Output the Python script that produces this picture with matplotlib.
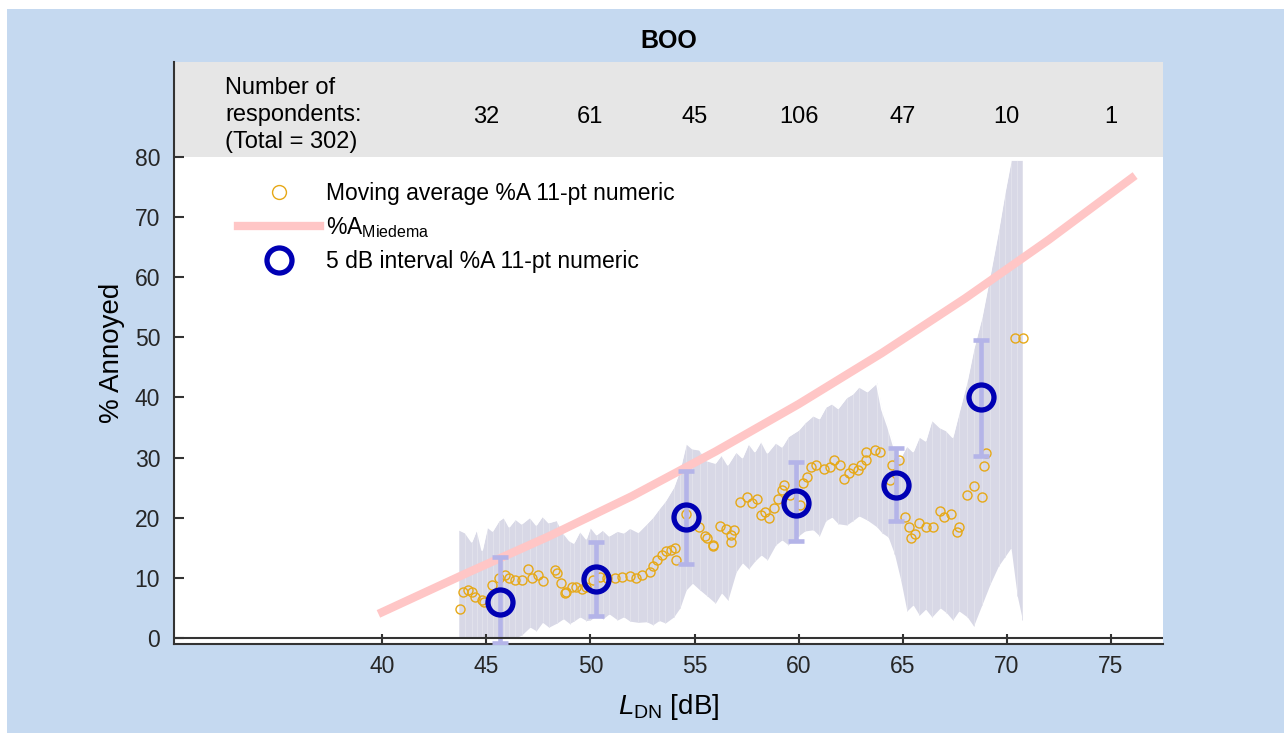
#
# Annoyance vs L_DN for BOO: moving average, Miedema curve, 5 dB interval means
#
import numpy as np
import matplotlib.pyplot as plt
from matplotlib.patches import Rectangle

plt.rcParams['font.family'] = ['Liberation Sans', 'DejaVu Sans']
plt.rcParams['mathtext.fontset'] = 'custom'
plt.rcParams['mathtext.rm'] = 'Liberation Sans'
plt.rcParams['mathtext.it'] = 'Liberation Sans:italic'

# moving average %A (11-pt numeric scale)
ma_x = [43.73, 43.9, 44.1, 44.3, 44.45, 44.8, 44.9, 45.25, 45.6, 45.9, 46.1, 46.4, 46.7,
        47.0, 47.2, 47.5, 47.7, 48.3, 48.4, 48.6, 48.8, 48.85, 49.1, 49.3, 49.6, 49.8,
        50.1, 50.45, 50.8, 51.2, 51.5, 51.9, 52.2, 52.5, 52.85, 53.0, 53.2, 53.45, 53.65,
        53.85, 54.05, 54.1, 54.6, 55.2, 55.5, 55.6, 55.9, 55.9, 56.2, 56.5, 56.77, 56.9,
        56.77, 57.2, 57.5, 57.75, 58.0, 58.2, 58.4, 58.6, 58.8, 59.0, 59.2, 59.3, 59.6,
        60.05, 60.2, 60.4, 60.6, 60.85, 61.2, 61.5, 61.7, 62.0, 62.2, 62.4, 62.6, 62.85,
        63.0, 63.25, 63.25, 63.65, 63.9, 64.4, 64.5, 64.8, 65.1, 65.3, 65.4, 65.6, 65.8,
        66.1, 66.45, 66.8, 67.0, 67.3, 67.6, 67.7, 68.1, 68.4, 68.8, 68.9, 69.0, 70.37, 70.77]
ma_y = [4.8, 7.7, 8.0, 7.7, 6.9, 6.3, 6.05, 8.8, 9.9, 10.5, 9.9, 9.65, 9.65,
        11.4, 9.9, 10.5, 9.4, 11.3, 10.8, 9.1, 7.4, 7.7, 8.5, 8.4, 8.1, 8.5,
        9.65, 10.2, 10.0, 9.9, 10.1, 10.3, 9.9, 10.5, 11.0, 11.9, 13.0, 13.8, 14.4,
        14.6, 14.9, 13.0, 20.7, 18.5, 16.9, 16.6, 15.3, 15.4, 18.6, 18.2, 17.1, 18.0,
        16.0, 22.7, 23.4, 22.4, 23.1, 20.5, 21.0, 20.0, 21.6, 23.1, 24.6, 25.5, 23.8,
        22.1, 25.7, 26.8, 28.5, 28.8, 28.1, 28.5, 29.6, 28.8, 26.4, 27.4, 28.2, 27.95,
        28.8, 29.6, 31.0, 31.3, 31.0, 26.3, 28.8, 29.6, 20.2, 18.5, 16.6, 17.3, 19.1,
        18.5, 18.5, 21.1, 20.1, 20.7, 17.7, 18.5, 23.8, 25.2, 23.5, 28.6, 30.8, 49.9, 49.9]

# confidence band around the moving average
band_x = [43.7, 44.0, 44.3, 44.55, 44.8, 45.05, 45.3, 45.6, 45.85, 46.1, 46.4, 46.7, 47.1,
          47.4, 47.7, 48.0, 48.4, 48.7, 49.0, 49.2, 49.5, 49.8, 50.0, 50.3, 50.6, 50.9,
          51.3, 51.6, 51.9, 52.3, 52.7, 53.0, 53.3, 53.6, 54.0, 54.3, 54.6, 54.9, 55.25,
          55.6, 56.0, 56.3, 56.6, 57.0, 57.3, 57.6, 57.9, 58.2, 58.5, 58.9, 59.2, 59.5,
          60.0, 60.3, 60.7, 61.0, 61.3, 61.6, 61.9, 62.3, 62.6, 62.9, 63.3, 63.75, 64.0,
          64.3, 64.6, 64.9, 65.2, 65.5, 65.8, 66.1, 66.4, 66.8, 67.1, 67.4, 67.7, 68.1,
          68.4, 68.8, 69.2, 69.6, 69.9, 70.2, 70.5, 70.75]
band_lo = [0, 0, 0, 0, 0, 0, 0, 0, 0, 0, 0, 0.5, 1.8,
           1.2, 2.6, 1.8, 2.5, 3.2, 2.4, 2.8, 3.5, 2.9, 3.0, 3.8, 3.2, 4.0,
           3.0, 3.5, 2.8, 2.6, 2.7, 2.2, 2.9, 2.5, 3.5, 5.0, 8.0, 9.1, 8.0,
           7.0, 5.8, 7.5, 6.3, 11.0, 12.5, 11.5, 12.8, 13.8, 13.0, 15.5, 16.3, 15.5,
           17.0, 17.8, 18.0, 17.0, 19.5, 20.1, 19.0, 18.8, 19.5, 20.3, 19.6, 18.5, 17.5,
           16.8, 14.0, 9.7, 4.5, 5.5, 3.8, 4.8, 3.5, 5.0, 4.2, 3.0, 4.5, 3.5,
           2.0, 5.5, 9.0, 12.0, 13.5, 15.0, 7.0, 3.0]
band_hi = [18.0, 17.5, 16.0, 18.2, 14.6, 18.5, 17.8, 19.5, 20.1, 18.5, 19.8, 19.0, 20.1,
           18.8, 20.3, 19.2, 19.6, 17.5, 16.2, 15.8, 17.8, 16.5, 18.5, 17.2, 18.0, 17.0,
           17.8, 17.5, 18.3, 17.6, 19.0, 20.1, 21.5, 22.8, 25.1, 28.0, 32.4, 31.5, 31.3,
           29.5, 29.1, 30.5, 28.8, 31.0, 30.0, 32.4, 31.0, 32.8, 30.8, 32.5, 31.8, 33.5,
           34.6, 35.8, 37.0, 36.5, 38.4, 39.0, 38.2, 40.0, 40.6, 41.8, 41.0, 42.4, 38.0,
           35.0, 31.5, 30.0, 32.0, 31.0, 33.5, 32.8, 36.3, 35.0, 34.5, 33.4, 37.5, 42.9,
           48.0, 53.4, 60.5, 67.9, 74.0, 79.5, 79.5, 79.5]

# Miedema %A curve
mied_x = [40, 44, 48, 52, 56, 60, 64, 68, 72, 76]
mied_y = [4.3, 10.7, 16.9, 23.6, 31.0, 38.9, 47.4, 56.5, 66.2, 76.5]

# 5 dB interval %A with error bars
int_x = [45.65, 50.25, 54.6, 59.86, 64.7, 68.74]
int_y = [6.05, 9.8, 20.1, 22.5, 25.5, 40.0]
int_lo = [-0.8, 3.7, 12.3, 16.1, 19.4, 30.3]
int_hi = [13.4, 15.9, 27.7, 29.2, 31.6, 49.6]

# respondents per 5 dB class
n_x = [45, 50, 55, 60, 65, 70, 75]
n_resp = [32, 61, 45, 106, 47, 10, 1]

xticks = [40, 45, 50, 55, 60, 65, 70, 75]
yticks = [0, 10, 20, 30, 40, 50, 60, 70, 80]

fig = plt.figure(figsize=(12.84, 7.33), dpi=100, facecolor='white')
fig.patches.append(Rectangle((7/1284, 0), 1, (733-9)/733, transform=fig.transFigure,
                             facecolor='#c5d9f0', edgecolor='none', zorder=-10))
ax = fig.add_axes([174/1284, 89/733, 989/1284, 582/733])
ax.set_xlim(30, 77.5)
ax.set_ylim(-1, 95.8)

ax.axhspan(80, 100, color='#e6e6e6', lw=0, zorder=0)

ax.fill_between(band_x, band_lo, band_hi, color='#d8d8e6', lw=0, zorder=1)
ax.vlines(band_x, band_lo, band_hi, color='#e2e2ec', lw=0.7, zorder=1)
ax.plot(band_x, band_hi, color='white', lw=1.2, zorder=1)

ax.plot(ma_x, ma_y, 'o', ms=6.5, mfc='none', mec='#e6a817', mew=1.0, zorder=3,
        label='Moving average %A 11-pt numeric')
ax.plot(mied_x, mied_y, '-', color='#ffc6c6', lw=6, zorder=2,
        label=r'%A$_{\mathrm{Miedema}}$')

yerr = [np.array(int_y) - np.array(int_lo), np.array(int_hi) - np.array(int_y)]
ax.errorbar(int_x, int_y, yerr=yerr, fmt='none', ecolor='#b4b4e8', elinewidth=3.3,
            capsize=6, capthick=3.3, zorder=4)
ax.plot(int_x, int_y, 'o', ms=18, mfc='none', mec='#0000b4', mew=3.8, zorder=5,
        label='5 dB interval %A 11-pt numeric')

ax.axhline(0, color='#333333', lw=1.5, zorder=6)

ax.text(32.45, 87, 'Number of\nrespondents:\n(Total = %d)' % sum(n_resp),
        ha='left', va='center', fontsize=17, linespacing=1.3)
for xv, nv in zip(n_x, n_resp):
    ax.text(xv, 86.7, str(nv), ha='center', va='center', fontsize=17)

for s in ['top', 'right']:
    ax.spines[s].set_visible(False)
for s in ['left', 'bottom']:
    ax.spines[s].set_color('#333333')
    ax.spines[s].set_linewidth(1.5)

ax.set_xticks(xticks)
ax.set_yticks(yticks)
ax.tick_params(direction='in', length=7, width=1.5, color='#333333',
               labelsize=16.5, labelcolor='#262626', pad=10)
ax.tick_params(axis='x', pad=8)

ax.set_title('BOO', fontsize=18, fontweight='bold', pad=10)
ax.set_xlabel(r'$L_{\mathrm{DN}}$ [dB]', fontsize=20, labelpad=10)
ax.set_ylabel('% Annoyed', fontsize=20, labelpad=7)

leg = ax.legend(loc='upper left', bbox_to_anchor=(0.055, 0.81), frameon=False,
                fontsize=16.5, handlelength=3.6, handletextpad=0.25, labelspacing=0.45,
                borderaxespad=0)
leg.legend_handles[0].set_markersize(10)

fig.savefig('out.png', dpi=100, facecolor=fig.get_facecolor())
